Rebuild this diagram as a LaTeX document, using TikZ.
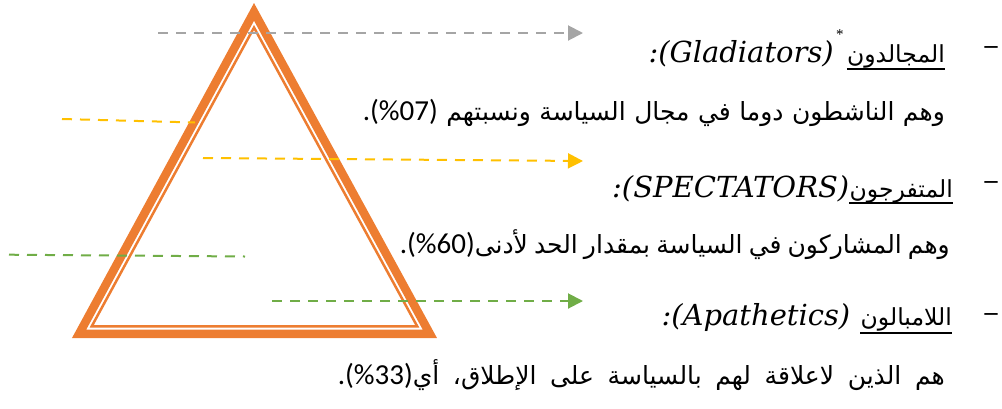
\documentclass[tikz,border=0pt]{standalone}
\usepackage{fontspec}
\TeXXeTstate=1
\newfontfamily\ar[Script=Arabic]{DejaVu Sans}
\newfontfamily\lat{DejaVu Serif}
\newfontfamily\dash{Liberation Serif}
\newfontfamily\num{Carlito}
\usetikzlibrary{arrows.meta}
\definecolor{tri}{HTML}{ED7D31}
\definecolor{lgray}{HTML}{A5A5A5}
\definecolor{lyellow}{HTML}{FFC000}
\definecolor{lgreen}{HTML}{70AD47}
\newcommand{\artext}[2]{\hbox to #1{\spaceskip=.3em plus 1fil minus .1em #2}}
\newcommand{\pct}[1]{{\num\fontsize{29}{30}\selectfont #1}}
\tikzset{
  dashline/.style={line width=2pt, dash pattern=on 10pt off 8pt},
  tipline/.style={dashline, -{Triangle[length=15pt,width=15pt]}},
  body/.style={anchor=base east, inner sep=0pt, font=\ar\fontsize{25}{28}\selectfont},
  arword/.style={anchor=base east, inner sep=0pt, font=\ar\fontsize{23.5}{26}\selectfont},
  latword/.style={anchor=base east, inner sep=0pt, font=\lat\itshape\fontsize{29}{32}\selectfont},
  bullet/.style={inner sep=0pt, font=\dash\bfseries\fontsize{26}{28}\selectfont},
  uline/.style={line width=2.8pt},
}
\begin{document}
\begin{tikzpicture}[x=1pt,y=-1pt]
\useasboundingbox (0,0) rectangle (1002,408);
% triangle
\draw[tri, line width=8.5pt, line join=miter] (254.01,11.89) -- (79.14,333.75) -- (429.83,333.75) -- cycle;
\draw[tri, line width=2.5pt, line join=miter] (254.03,27.56) -- (91.76,326.25) -- (417.19,326.25) -- cycle;
% dashed connectors
\coordinate (g0) at (158,33);
\coordinate (g1) at (583,33);
\coordinate (y0) at (62,119);
\coordinate (y1) at (195,122.5);
\coordinate (y2) at (203,158);
\coordinate (y3) at (583,161);
\coordinate (n0) at (9,254.7);
\coordinate (n1) at (245,256.5);
\coordinate (n2) at (272,301);
\coordinate (n3) at (583,301);
\draw[tipline, lgray] (g0) -- (g1);
\draw[dashline, lyellow] (y0) -- (y1);
\draw[tipline, lyellow] (y2) -- (y3);
\draw[dashline, lgreen] (n0) -- (n1);
\draw[tipline, lgreen] (n2) -- (n3);
% bullets
\node[bullet] (d1) at (991,50) {–};
\node[bullet] (d2) at (991,185) {–};
\node[bullet] (d3) at (991,317) {–};
% heading 1
\node[arword] (h1) at (945,62) {\beginR المجالدون\endR};
\draw[uline] ([yshift=-7pt]h1.base west) -- ([yshift=-7pt]h1.base east);
\node[inner sep=0pt, font=\dash\fontsize{15}{16}\selectfont] (st) at ([xshift=-7pt,yshift=27pt]h1.base west) {*};
\node[latword] (l1) at ([xshift=-13pt]h1.base west) {:(Gladiators)};
% body 1
\node[body] (b1) at (945,120) {\artext{582pt}{\beginR وهم الناشطون دوما في مجال السياسة ونسبتهم \beginL\pct{(\%07)}\endL\pct{.}\endR}};
% heading 2
\node[arword] (h2) at (953,197) {\beginR المتفرجون\endR};
\draw[uline] ([yshift=-6pt]h2.base west) -- ([yshift=-6pt]h2.base east);
\node[latword] (l2) at (h2.base west) {:(SPECTATORS)};
% body 2
\node[body] (b2) at (950,253) {\artext{550pt}{\beginR وهم المشاركون في السياسة بمقدار الحد لأدنى\beginL\pct{(\%60)}\endL\pct{.}\endR}};
% heading 3
\node[arword] (h3) at (952,325) {\beginR اللامبالون\endR};
\draw[uline] ([yshift=-8pt]h3.base west) -- ([yshift=-8pt]h3.base east);
\node[latword] (l3) at ([xshift=-10pt]h3.base west) {:(Apathetics)};
% body 3
\node[body] (b3) at (945,384) {\artext{607pt}{\beginR هم الذين لاعلاقة لهم بالسياسة على الإطلاق، أي\beginL\pct{(\%33)}\endL\pct{.}\endR}};
\end{tikzpicture}
\end{document}
